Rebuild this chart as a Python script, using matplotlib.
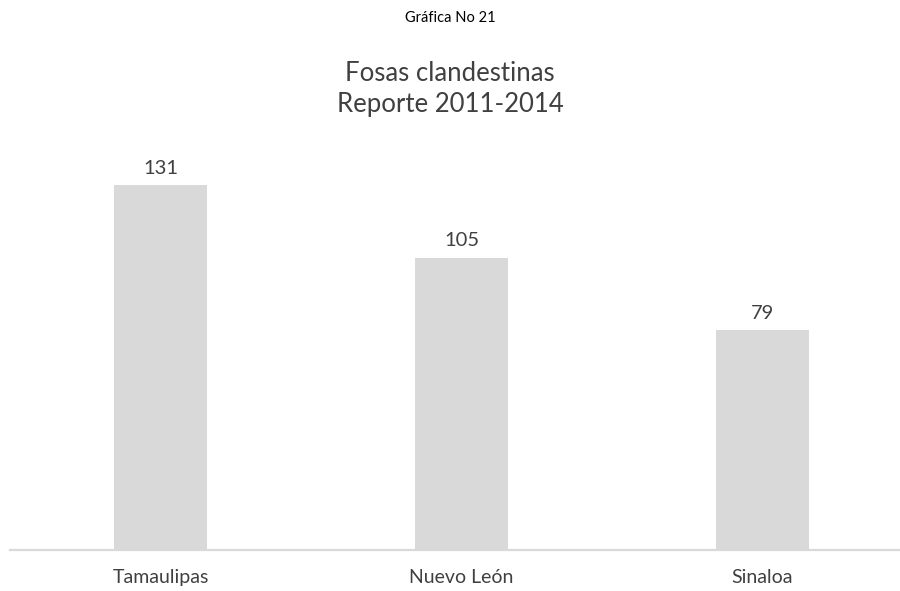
import matplotlib
matplotlib.use("Agg")
import matplotlib.pyplot as plt

states = ["Tamaulipas", "Nuevo León", "Sinaloa"]
fosas = [131, 105, 79]

BAR = "#d9d9d9"
INK = "#404040"

plt.rcParams["font.family"] = ["Lato", "DejaVu Sans"]

fig = plt.figure(figsize=(9, 5.91), dpi=100)
fig.patch.set_facecolor("white")
# axes: x from 10px to 900px, baseline at 550px, top at 150px
ax = fig.add_axes([10 / 900, 41 / 591, 890 / 900, 400 / 591])
x = range(len(states))
bars = ax.bar(x, fosas, width=0.31, color=BAR, zorder=2)
ax.set_xlim(-0.5, 2.457)
ax.set_ylim(0, 143.6)

for side in ["top", "right", "left"]:
    ax.spines[side].set_visible(False)
ax.spines["bottom"].set_color(BAR)
ax.spines["bottom"].set_linewidth(1.6)
ax.set_yticks([])
ax.set_xticks(list(x))
ax.set_xticklabels(states, fontsize=14, color=INK)
ax.tick_params(axis="x", length=0, pad=14)

for b, v in zip(bars, fosas):
    ax.annotate(str(v), (b.get_x() + b.get_width() / 2, v), xytext=(0, 6),
                textcoords="offset points", ha="center", va="bottom",
                fontsize=14.5, color=INK)

fig.text(0.5, 1 - 18 / 591, "Gráfica No 21", ha="center", va="center",
         fontsize=10.5, color="black")
fig.text(0.5, 1 - 89 / 591, "Fosas clandestinas\nReporte 2011-2014",
         ha="center", va="center", fontsize=18.5, color=INK, linespacing=1.3)

fig.savefig("out.png", dpi=100, facecolor="white")
